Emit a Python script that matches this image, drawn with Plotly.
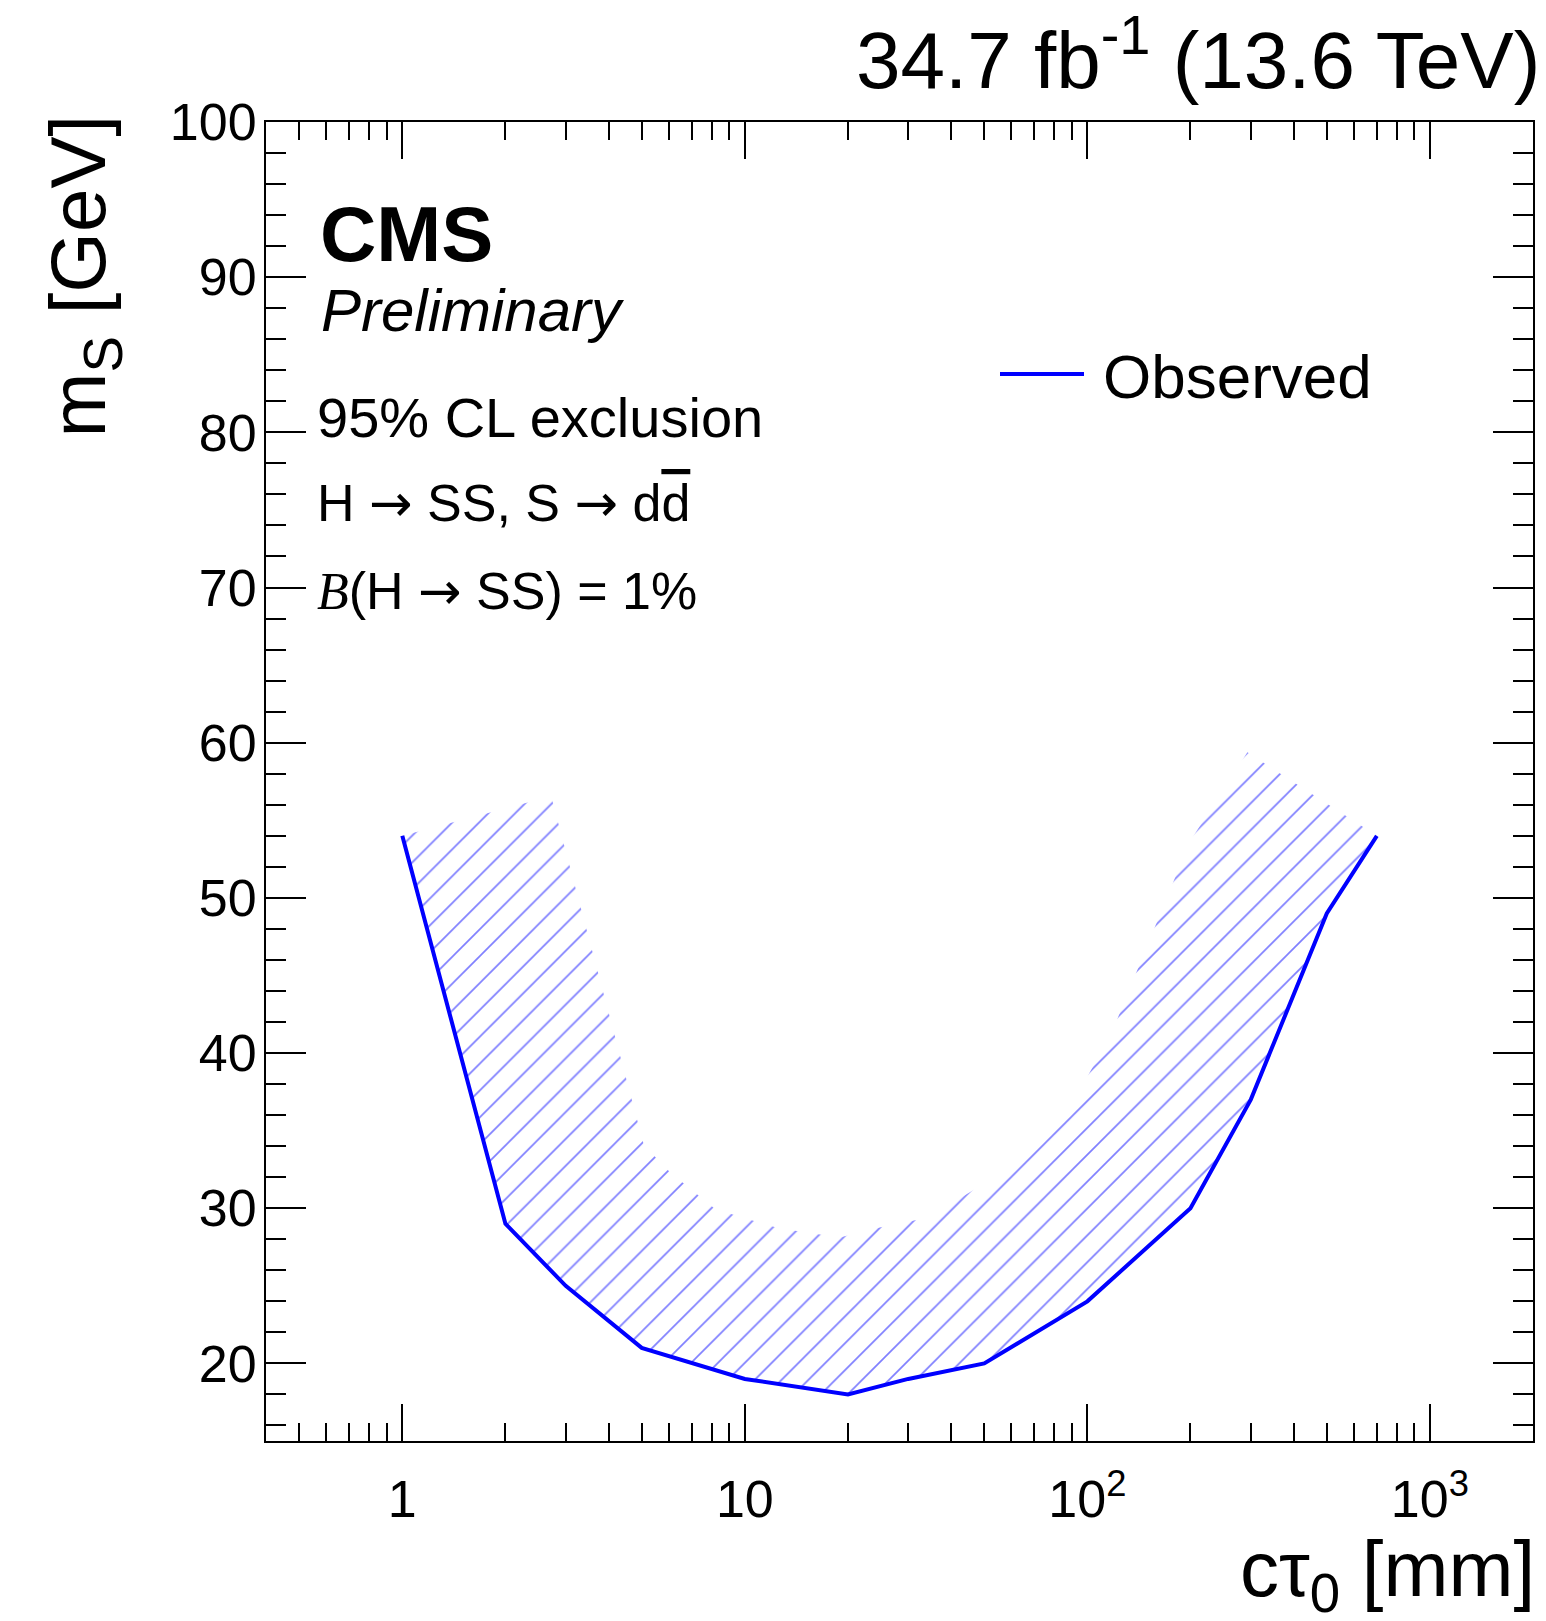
import numpy as np
import plotly.graph_objects as go

# ---------------- data ----------------
ctau_mm = [1, 2, 3, 5, 10, 20, 30, 50, 100, 200, 300, 500, 700]
mass_gev = [54, 29, 25, 21, 19, 18, 19, 20, 24, 30, 37, 49, 54]

x_tickvals = [1, 10, 100, 1000]
x_ticktext = ["1", "10", "10<sup>2</sup>", "10<sup>3</sup>"]
y_tickvals = [20, 30, 40, 50, 60, 70, 80, 90, 100]
x_minor_vals = [0.4, 0.5, 0.6, 0.7, 0.8, 0.9, 2, 3, 4, 5, 6, 7, 8, 9,
                20, 30, 40, 50, 60, 70, 80, 90, 200, 300, 400, 500, 600, 700, 800, 900, 2000]
y_minor_vals = [16, 18, 22, 24, 26, 28, 32, 34, 36, 38, 42, 44, 46, 48, 52, 54, 56, 58,
                62, 64, 66, 68, 72, 74, 76, 78, 82, 84, 86, 88, 92, 94, 96, 98]

X_RANGE = (0.4, 2000)
Y_RANGE = (15, 100)

# ---------------- layout geometry ----------------
W_FIG, H_FIG = 1546, 1621
ML, MR, MT, MB = 266, 13, 122, 180
PW = W_FIG - ML - MR
PH = H_FIG - MT - MB
HATCH_W = 154          # width of the hatched exclusion band, px
FONT = "Liberation Sans, Arial, Helvetica, sans-serif"
BLUE = "#0000ff"
ARROW = "<span style='font-family:DejaVu Sans'>\u2192</span>"

lx0, lx1 = np.log10(X_RANGE[0]), np.log10(X_RANGE[1])


def to_px(x, y):
    X = (np.log10(x) - lx0) / (lx1 - lx0) * PW
    Y = (Y_RANGE[1] - y) / (Y_RANGE[1] - Y_RANGE[0]) * PH
    return X, Y


def from_px(X, Y):
    x = 10 ** (lx0 + X / PW * (lx1 - lx0))
    y = Y_RANGE[1] - Y / PH * (Y_RANGE[1] - Y_RANGE[0])
    return x, y


# hatched band: parallel offset (miter joins) of the observed curve, in screen space
P = np.column_stack(to_px(np.array(ctau_mm, float), np.array(mass_gev, float)))
d = np.diff(P, axis=0)
d /= np.linalg.norm(d, axis=1)[:, None]
nrm = np.column_stack([d[:, 1], -d[:, 0]])
Q = [P[0] + HATCH_W * nrm[0]]
for i in range(1, len(P) - 1):
    a = P[i] + HATCH_W * nrm[i - 1]
    b = P[i] + HATCH_W * nrm[i]
    M = np.array([[d[i - 1][0], -d[i][0]], [d[i - 1][1], -d[i][1]]])
    if abs(np.linalg.det(M)) < 1e-6:
        Q.append(b)
    else:
        t, s = np.linalg.solve(M, b - a)
        Q.append(a + t * d[i - 1])
Q.append(P[-1] + HATCH_W * nrm[-1])
Q = np.array(Q)
poly = np.vstack([P, Q[::-1], P[:1]])
band_x, band_y = from_px(poly[:, 0], poly[:, 1])

fig = go.Figure()
fig.add_trace(go.Scatter(
    x=band_x, y=band_y, mode="lines", fill="toself",
    line=dict(width=0, color=BLUE),
    fillcolor="rgba(0,0,0,0)",
    fillpattern=dict(shape="/", size=19, solidity=0.09, fgcolor=BLUE,
                     bgcolor="rgba(0,0,0,0)"),
    hoverinfo="skip", showlegend=False))
fig.add_trace(go.Scatter(
    x=ctau_mm, y=mass_gev, mode="lines", name="Observed",
    line=dict(color=BLUE, width=4), showlegend=False))


def px2paper(X, Y):
    return (X - ML) / PW, (MT + PH - Y) / PH


def ann(text, x_px, baseline_px, size, xanchor="left", family=FONT, **kw):
    xp, yp = px2paper(x_px, baseline_px + 0.212 * size + 2)
    return dict(text=text, xref="paper", yref="paper", x=xp, y=yp,
                xanchor=xanchor, yanchor="bottom", showarrow=False,
                font=dict(size=size, family=family, color="black", **kw))


annotations = [
    ann("34.7 fb<sup>-1</sup> (13.6 TeV)", 1542, 88, 80, xanchor="right"),
    ann("<b>CMS</b>", 318, 261, 78),
    ann("<i>Preliminary</i>", 319, 331, 60),
    ann("95% CL exclusion", 315, 437, 56),
    ann("H " + ARROW + " SS, S " + ARROW + " d<span style='text-decoration:overline'>d</span>",
        315, 522, 52),
    ann("<span style='font-family:Liberation Serif'><i>B</i></span>(H " + ARROW + " SS) = 1%",
        315, 610, 52),
    ann("Observed", 1101, 398, 62),
]
# axis titles (ROOT style: aligned to axis end)
xp, yp = px2paper(1537, 1596 - 0.905 * 78 - 2)
annotations.append(dict(text="c\u03c4<sub>0</sub> [mm]", xref="paper", yref="paper",
                        x=xp, y=yp, xanchor="right", yanchor="top", showarrow=False,
                        font=dict(size=78, family=FONT, color="black")))
xp, yp = px2paper(105 - 0.905 * 78 - 2, 112)
annotations.append(dict(text="m<sub>S</sub> [GeV]", xref="paper", yref="paper",
                        x=xp, y=yp, xanchor="left", yanchor="top", textangle=-90,
                        showarrow=False, font=dict(size=78, family=FONT, color="black")))

# legend sample line
lx_a, ly_a = px2paper(1000, 374)
lx_b, _ = px2paper(1084, 374)
shapes = [dict(type="line", xref="paper", yref="paper", x0=lx_a, x1=lx_b, y0=ly_a, y1=ly_a,
               line=dict(color=BLUE, width=4))]

axis_common = dict(showline=True, linewidth=2, linecolor="black", mirror="ticks",
                   ticks="inside", tickwidth=2, tickcolor="black",
                   showgrid=False, zeroline=False,
                   tickfont=dict(size=52, family=FONT, color="black"))

fig.update_layout(
    width=W_FIG, height=H_FIG, autosize=False,
    margin=dict(l=ML, r=MR, t=MT, b=MB, pad=0),
    paper_bgcolor="white", plot_bgcolor="white",
    showlegend=False,
    xaxis=dict(type="log", range=[lx0, lx1], tickmode="array",
               tickvals=x_tickvals, ticktext=x_ticktext, ticklen=37,
               ticklabelstandoff=12,
               minor=dict(ticks="inside", ticklen=18, tickwidth=2, tickcolor="black",
                          tickmode="array", tickvals=x_minor_vals, showgrid=False),
               **axis_common),
    yaxis=dict(range=list(Y_RANGE), tickmode="array", tickvals=y_tickvals,
               ticklen=40, ticklabelstandoff=-3,
               minor=dict(ticks="inside", ticklen=20, tickwidth=2, tickcolor="black",
                          tickmode="array", tickvals=y_minor_vals, showgrid=False),
               **axis_common),
    annotations=annotations,
    shapes=shapes,
)

fig.write_html("out.html")
